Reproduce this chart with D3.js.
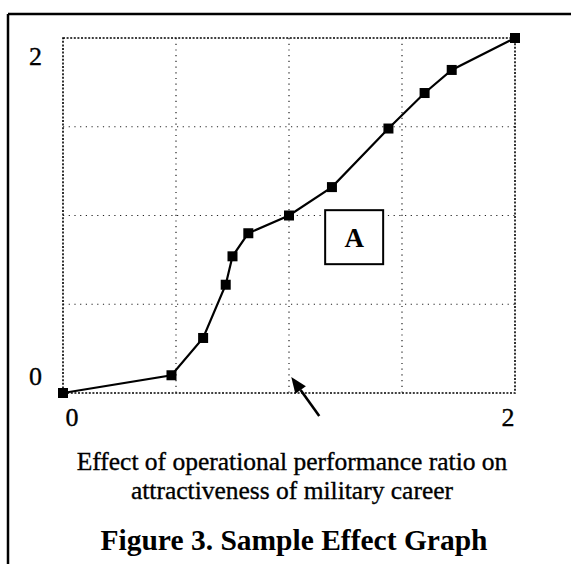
<!DOCTYPE html>
<html>
<head>
<meta charset="utf-8">
<style>
body { margin: 0; background: #fff; }
text { font-family: "Liberation Serif", "Times New Roman", serif; fill: #000; }
.ink { stroke: #000; stroke-width: 0.35; }
.grid line { stroke: #222; stroke-width: 1.2; stroke-dasharray: 1.2,4.5; }
.border { fill: none; stroke: #000; stroke-width: 1.6; stroke-dasharray: 2,1.6; }
.curve { fill: none; stroke: #000; stroke-width: 2.2; }
.frame { stroke: #000; stroke-width: 2.5; }
</style>
<title>Sample Effect Graph</title>
</head>
<body>
<div id="chart"></div>
<script src="https://d3js.org/d3.v7.min.js"></script>
<script>
// values
var xValues = [0, 0.48, 0.62, 0.72, 0.75, 0.82, 1.0, 1.19, 1.44, 1.6, 1.72, 2.0];
var yValues = [0, 0.1, 0.31, 0.61, 0.77, 0.9, 1.0, 1.16, 1.49, 1.69, 1.82, 2.0];
var xTicks = [0, 2];
var yTicks = [0, 2];
var gridSteps = [0.5, 1, 1.5];
var caption = ["Effect of operational performance ratio on", "attractiveness of military career"];
var title = "Figure 3. Sample Effect Graph";
var boxLabel = "A";

var width = 571, height = 564;

var x = d3.scaleLinear().domain([0, 2]).range([63, 515]);
var y = d3.scaleLinear().domain([0, 2]).range([393, 38]);

var svg = d3.select("#chart").append("svg")
    .attr("width", width)
    .attr("height", height);

// outer page frame (top and left only)
svg.append("line").attr("class", "frame")
    .attr("x1", 8).attr("x2", width).attr("y1", 14).attr("y2", 14);
svg.append("line").attr("class", "frame")
    .attr("x1", 8).attr("x2", 8).attr("y1", 14).attr("y2", height);

// grid
var grid = svg.append("g").attr("class", "grid");
grid.selectAll(".vx").data(gridSteps).enter().append("line")
    .attr("x1", function(d) { return x(d); })
    .attr("x2", function(d) { return x(d); })
    .attr("y1", y(2)).attr("y2", y(0));
grid.selectAll(".hy").data(gridSteps).enter().append("line")
    .attr("y1", function(d) { return y(d); })
    .attr("y2", function(d) { return y(d); })
    .attr("x1", x(0)).attr("x2", x(2));

svg.append("rect").attr("class", "border")
    .attr("x", x(0)).attr("y", y(2))
    .attr("width", x(2) - x(0))
    .attr("height", y(0) - y(2));

// axis labels
svg.append("g")
    .attr("transform", "translate(0," + y(0) + ")")
    .call(d3.axisBottom(x).tickValues(xTicks).tickFormat(d3.format("d")).tickSize(0).tickPadding(15))
    .call(function(g) { g.select(".domain").remove(); })
    .selectAll("text")
      .attr("class", "ink")
      .attr("font-family", "Liberation Serif, serif")
      .attr("font-size", 26)
      .attr("text-anchor", function(d) { return d === 0 ? "start" : "end"; })
      .attr("dx", function(d) { return d === 0 ? 2 : -1; });

svg.append("g")
    .attr("transform", "translate(" + x(0) + ",0)")
    .call(d3.axisLeft(y).tickValues(yTicks).tickFormat(d3.format("d")).tickSize(0).tickPadding(21))
    .call(function(g) { g.select(".domain").remove(); })
    .selectAll("text")
      .attr("class", "ink")
      .attr("font-family", "Liberation Serif, serif")
      .attr("font-size", 26)
      .attr("dy", function(d) { return d === 0 ? "-0.31em" : "1.0em"; });

// curve
var pts = xValues.map(function(d, i) { return [d, yValues[i]]; });
var line = d3.line()
    .x(function(d) { return x(d[0]); })
    .y(function(d) { return y(d[1]); });

svg.append("path").datum(pts)
    .attr("class", "curve")
    .attr("d", line);

svg.selectAll(".pt").data(pts).enter().append("rect")
    .attr("x", function(d) { return x(d[0]) - 5; })
    .attr("y", function(d) { return y(d[1]) - 5; })
    .attr("width", 10).attr("height", 10)
    .attr("fill", "#000");

// "A" box
var bx = x(1.16), by = y(1.03);
svg.append("rect")
    .attr("x", bx).attr("y", by)
    .attr("width", 58).attr("height", 54)
    .attr("fill", "#fff")
    .attr("stroke", "#000")
    .attr("stroke-width", 2);
svg.append("text")
    .attr("x", bx + 29).attr("y", by + 37)
    .attr("text-anchor", "middle")
    .attr("font-weight", "bold")
    .attr("font-size", 27)
    .text(boxLabel);

// arrow pointing up-left at the x = 1 position
var tip = [x(1.01), y(0) - 16], tail = [x(1.01) + 28, y(0) + 23];
var ang = Math.atan2(tail[1] - tip[1], tail[0] - tip[0]);
var hl = 16, hw = 6.5;
var base = [tip[0] + hl * Math.cos(ang), tip[1] + hl * Math.sin(ang)];
svg.append("line")
    .attr("x1", base[0]).attr("y1", base[1])
    .attr("x2", tail[0]).attr("y2", tail[1])
    .attr("stroke", "#000")
    .attr("stroke-width", 2.6);
svg.append("path")
    .attr("d", "M" + tip[0] + "," + tip[1] +
      "L" + (base[0] - hw * Math.sin(ang)) + "," + (base[1] + hw * Math.cos(ang)) +
      "L" + (base[0] + hw * Math.sin(ang)) + "," + (base[1] - hw * Math.cos(ang)) + "Z")
    .attr("fill", "#000");

// caption and title
svg.selectAll(".cap").data(caption).enter().append("text")
    .attr("class", "ink")
    .attr("x", 292)
    .attr("y", function(d, i) { return 470 + i * 29; })
    .attr("text-anchor", "middle")
    .attr("font-size", 25.5)
    .text(function(d) { return d; });

svg.append("text")
    .attr("x", 294)
    .attr("y", 550)
    .attr("text-anchor", "middle")
    .attr("font-weight", "bold")
    .attr("font-size", 29.5)
    .text(title);
</script>
</body>
</html>
